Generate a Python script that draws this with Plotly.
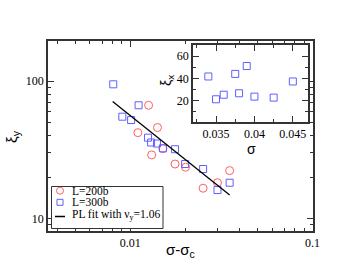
import plotly.graph_objects as go

# ---- data ----
x_200 = [0.0110, 0.0126, 0.0131, 0.0141, 0.0151, 0.0176, 0.0201, 0.0251, 0.0301, 0.0351]
y_200 = [42.1, 66.6, 29.0, 45.9, 32.2, 24.9, 23.6, 16.6, 18.2, 22.3]

x_300 = [0.00806, 0.00904, 0.0101, 0.0111, 0.0125, 0.0130, 0.0140, 0.0151, 0.0176, 0.0200, 0.0251, 0.0301, 0.0351]
y_300 = [94.6, 55.0, 52.0, 66.6, 38.7, 35.7, 35.1, 32.4, 31.9, 24.9, 22.9, 16.1, 18.2]

fit_nu = 1.06
fit_amp = 0.425
fit_x = [0.0080, 0.0351]
fit_y = [fit_amp * v ** (-fit_nu) for v in fit_x]

inset_sigma = [0.034, 0.035, 0.036, 0.0375, 0.038, 0.039, 0.040, 0.0425, 0.045]
inset_xi_x = [41.7, 21.2, 25.3, 44.0, 26.6, 51.1, 23.6, 22.7, 37.2]

main_xticks = [0.01, 0.1]
main_xticktext = ["0.01", "0.1"]
main_xminor = [0.004, 0.005, 0.006, 0.007, 0.008, 0.009,
               0.02, 0.03, 0.04, 0.05, 0.06, 0.07, 0.08, 0.09]
main_yticks = [10, 100]
main_yticktext = ["10", "100"]
main_yminor = [9, 20, 30, 40, 50, 60, 70, 80, 90]
inset_xticks = [0.035, 0.04, 0.045]
inset_xticktext = ["0.035", "0.04", "0.045"]
inset_xminor = [0.0325, 0.0375, 0.0425, 0.0475]
inset_yticks = [20, 40, 60]
inset_yminor = [10, 30, 50, 70]

legend_labels = ["L=200b", "L=300b", "PL fit with ν<sub>y</sub>=1.06"]
x_title = "σ-σ<sub>c</sub>"
y_title = "ξ<sub>y</sub>"
inset_x_title = "σ"
inset_y_title = "ξ<sub>x</sub>"

RED = "rgb(255,95,95)"
BLUE = "rgb(95,95,255)"
AX = "#333333"
SERIF = "Liberation Serif"
SANS = "Liberation Sans"

fig = go.Figure()

fig.add_trace(go.Scatter(x=x_200, y=y_200, mode="markers", name=legend_labels[0],
                         marker=dict(symbol="circle-open", size=8, color=RED, line=dict(width=1, color=RED)),
                         showlegend=False))
fig.add_trace(go.Scatter(x=x_300, y=y_300, mode="markers", name=legend_labels[1],
                         marker=dict(symbol="square-open", size=7, color=BLUE, line=dict(width=1, color=BLUE)),
                         showlegend=False))
fig.add_trace(go.Scatter(x=fit_x, y=fit_y, mode="lines", name="PL fit",
                         line=dict(color="black", width=1.3), showlegend=False))
fig.add_trace(go.Scatter(x=inset_sigma, y=inset_xi_x, mode="markers", name="inset",
                         xaxis="x2", yaxis="y2",
                         marker=dict(symbol="square-open", size=7, color=BLUE, line=dict(width=1, color=BLUE)),
                         showlegend=False))

common = dict(showline=True, linecolor=AX, linewidth=1.5, mirror="ticks", ticks="inside",
              tickcolor=AX, tickwidth=1.2, ticklen=6, showgrid=False, zeroline=False,
              automargin=False,
              tickfont=dict(family=SERIF, size=12, color="black"))

fig.update_layout(
    width=353, height=273,
    margin=dict(l=48, r=40, t=41, b=42, autoexpand=False),
    paper_bgcolor="white", plot_bgcolor="white",
    showlegend=False,
    xaxis=dict(type="log", range=[-2.452, -0.997], tickmode="array", tickvals=main_xticks,
               ticktext=main_xticktext,
               minor=dict(tickmode="array", tickvals=main_xminor, ticks="inside", ticklen=3,
                          tickcolor=AX, tickwidth=1),
               **common),
    yaxis=dict(type="log", range=[0.909, 2.291], tickmode="array", tickvals=main_yticks,
               ticktext=main_yticktext,
               minor=dict(tickmode="array", tickvals=main_yminor, ticks="inside", ticklen=3,
                          tickcolor=AX, tickwidth=1),
               **common),
    xaxis2=dict(domain=[0.547, 0.982], anchor="y2", range=[0.032, 0.047], tickmode="array",
                tickvals=inset_xticks, ticktext=inset_xticktext,
                minor=dict(tickmode="array", tickvals=inset_xminor, ticks="inside", ticklen=3,
                           tickcolor=AX, tickwidth=1),
                **common),
    yaxis2=dict(domain=[0.575, 0.979], anchor="x2", range=[1, 70], tickmode="array",
                tickvals=inset_yticks,
                minor=dict(tickmode="array", tickvals=inset_yminor, ticks="inside", ticklen=3,
                           tickcolor=AX, tickwidth=1),
                **common),
)

def px2paper_x(px):
    return (px - 48) / 265.0

def px2paper_y(py):
    return (231 - py) / 190.0

# ---- axis titles placed as in the reference ----
title_font = dict(family=SANS, size=15, color="black")
fig.add_annotation(x=px2paper_x(180), y=px2paper_y(250), xref="paper", yref="paper",
                   text=x_title, showarrow=False, xanchor="center", yanchor="middle", font=title_font)
fig.add_annotation(x=px2paper_x(12), y=px2paper_y(137), xref="paper", yref="paper",
                   text=y_title, showarrow=False, xanchor="center", yanchor="middle",
                   textangle=-90, font=title_font)
fig.add_annotation(x=px2paper_x(251), y=px2paper_y(139), xref="paper", yref="paper",
                   text=inset_x_title, showarrow=False, xanchor="center", yanchor="top",
                   font=dict(family=SANS, size=14, color="black"))
fig.add_annotation(x=px2paper_x(167), y=px2paper_y(81), xref="paper", yref="paper",
                   text=inset_y_title, showarrow=False, xanchor="center", yanchor="middle",
                   textangle=-90, font=dict(family=SANS, size=14, color="black"))

# ---- legend box (manual, to match compact layout) ----
fig.add_shape(type="rect", xref="paper", yref="paper",
              x0=px2paper_x(51.5), x1=px2paper_x(163), y0=px2paper_y(228.5), y1=px2paper_y(186.5),
              line=dict(color=AX, width=1), fillcolor="white", layer="above")
rows_y = [190.7, 202.3, 214.5]
sx = px2paper_x(60)
fig.add_shape(type="circle", xref="paper", yref="paper", xsizemode="pixel", ysizemode="pixel",
              xanchor=sx, yanchor=px2paper_y(rows_y[0]), x0=-3.5, x1=3.5, y0=-3.5, y1=3.5,
              line=dict(color=RED, width=1), layer="above")
fig.add_shape(type="rect", xref="paper", yref="paper", xsizemode="pixel", ysizemode="pixel",
              xanchor=sx, yanchor=px2paper_y(rows_y[1]), x0=-3, x1=3, y0=-3, y1=3,
              line=dict(color=BLUE, width=1), layer="above")
fig.add_shape(type="line", xref="paper", yref="paper",
              x0=px2paper_x(55), x1=px2paper_x(65), y0=px2paper_y(216.5), y1=px2paper_y(216.5),
              line=dict(color="black", width=1.5), layer="above")
for lbl, ry in zip(legend_labels, rows_y):
    fig.add_annotation(x=px2paper_x(70), y=px2paper_y(ry), xref="paper", yref="paper",
                       text=lbl, showarrow=False, xanchor="left", yanchor="middle",
                       font=dict(family=SERIF, size=11.5, color="black"))

fig.write_html("out.html", config={"displayModeBar": False},
               post_script="document.body.style.margin='0';document.body.style.padding='0';")
